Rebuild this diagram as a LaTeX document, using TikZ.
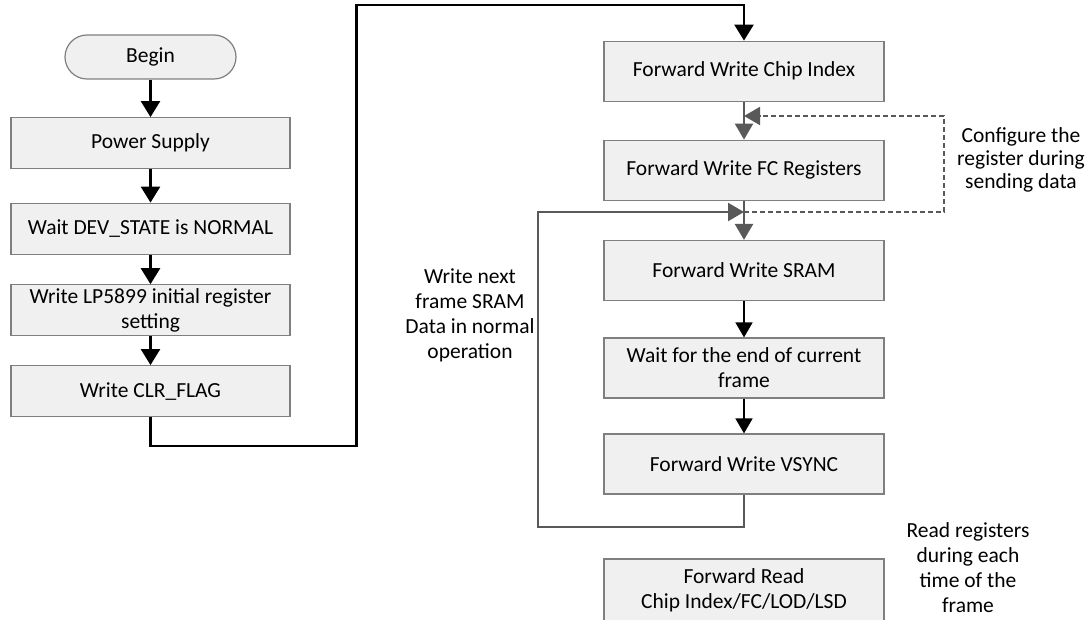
\documentclass[tikz,border=0pt]{standalone}
\usepackage{fontspec}
\setmainfont{Carlito}
\usetikzlibrary{arrows.meta}
\definecolor{boxgray}{HTML}{7F7F7F}
\definecolor{boxfill}{HTML}{F0F0F0}
\definecolor{linegray}{HTML}{595959}
\begin{document}
\begin{tikzpicture}[x=1pt,y=-1pt,
  txt/.style={font=\fontsize{21.5}{25}\selectfont, align=center, inner sep=0pt},
  box/.style={txt, draw=boxgray, fill=boxfill, line width=1.2pt, minimum width=279pt, minimum height=51pt},
  rbox/.style={box, minimum width=280pt, minimum height=60pt},
  startbox/.style={box, minimum width=171pt, minimum height=44pt, rounded corners=22pt},
  blk/.style={line width=2.5pt, -{Triangle[length=16pt,width=19pt]}},
  blkthin/.style={line width=1.8pt, -{Triangle[length=15pt,width=17pt]}},
  gry/.style={draw=linegray, line width=2.4pt, -{Triangle[length=16pt,width=18pt]}, color=linegray},
  gryd/.style={gry, line width=1.8pt, dash pattern=on 5pt off 3pt}
]
\useasboundingbox (0,0) rectangle (1086,620);

% left column
\node[startbox] (begin) at (150.5,57) {Begin};
\node[box] (power) at (150.5,143.2) {Power Supply};
\node[box] (wait) at (150.5,228.7) {Wait DEV\_STATE is NORMAL};
\node[box] (lp) at (150.5,310.3) {Write LP5899 initial register\\setting};
\node[box] (clr) at (150.5,391.2) {Write CLR\_FLAG};

% right column
\node[rbox] (chip) at (744,71.2) {Forward Write Chip Index};
\node[rbox] (fc) at (744,170.2) {Forward Write FC Registers};
\node[rbox] (sram) at (744,270.5) {Forward Write SRAM};
\node[rbox] (endf) at (744,368) {Wait for the end of current\\frame};
\node[rbox] (vsync) at (744,464) {Forward Write VSYNC};
\node[rbox, minimum height=62pt] (read) at (744,590) {Forward Read\\Chip Index/FC/LOD/LSD};

% labels
\node[txt, font=\fontsize{21.5}{23}\selectfont] (cfg) at (1021,160) {Configure the\\register during\\sending data};
\node[txt] (wnext) at (470,315) {Write next\\frame SRAM\\Data in normal\\operation};
\node[txt] (rreg) at (968,568) {Read registers\\during each\\time of the\\frame};

% connectors left
\draw[blk] (begin) -- (power);
\draw[blk] (power) -- (wait);
\draw[blk] (wait) -- (lp);
\draw[blk] (lp) -- (clr);
\draw[blk] (clr.south) -- (150.5,446) -| (356.7,5) -| (chip.north);

% connectors right
\coordinate (m2) at (744,116);
\coordinate (m1) at (744,212);
\draw[gry] (chip) -- (fc);
\draw[gry] (fc) -- (sram);
\draw[blkthin] (sram) -- (endf);
\draw[blkthin] (endf) -- (vsync);
\draw[gry] (vsync.south) -- (744,527) -| (538,212) -- (m1);
\draw[gryd] (m1) -- (944,212) -- (944,116) -- (m2);
\end{tikzpicture}
\end{document}
